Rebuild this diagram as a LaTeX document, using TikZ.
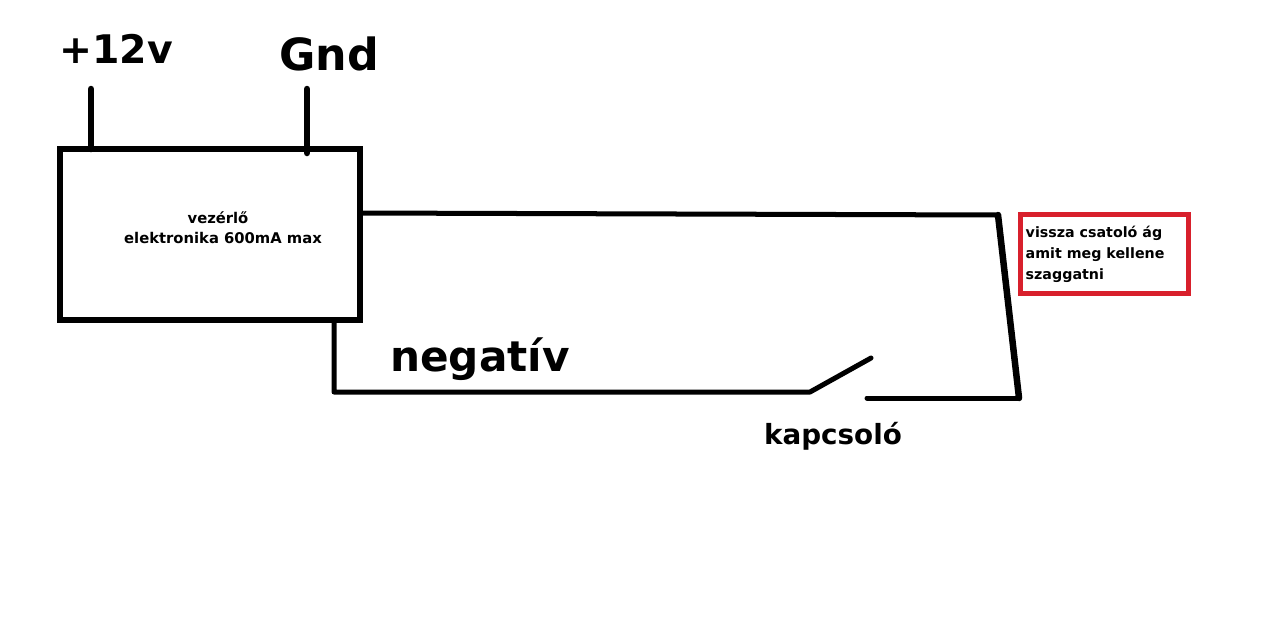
\documentclass[tikz,border=0pt]{standalone}
\usepackage{fontspec}
\setmainfont{DejaVu Sans}
\definecolor{paintred}{HTML}{D8202C}
\tikzset{
  wire/.style={line width=0.05cm,line cap=round,line join=round},
  heavywire/.style={wire,line width=0.065cm},
  bigtext/.style={inner sep=0pt,font=\bfseries\fontsize{11.2}{14}\selectfont},
  smalltext/.style={inner sep=0pt,font=\bfseries\fontsize{4.2}{5.1}\selectfont}
}
\begin{document}
\begin{tikzpicture}[x=0.01cm,y=-0.01cm]
  \useasboundingbox (0,0) rectangle (1280,630);
  \node[draw,line width=0.06cm,minimum width=3cm,minimum height=1.71cm,inner sep=0pt] (vezerlo) at (210,234.5) {};
  \node[smalltext] at (218,218) {vezérlő};
  \node[smalltext] at (223,238) {elektronika 600mA max};
  \node[bigtext] at (116,49) {+12v};
  \node[bigtext,font=\bfseries\fontsize{12.6}{15}\selectfont] at (329,54) {Gnd};
  \node[bigtext,font=\bfseries\fontsize{12}{15}\selectfont] at (480,359) {negatív};
  \node[bigtext,font=\bfseries\fontsize{7.9}{10}\selectfont] at (833,436) {kapcsoló};

  \coordinate (plusz) at (91,89);
  \coordinate (plusztalp) at (91,149);
  \coordinate (fold) at (307,89);
  \coordinate (foldtalp) at (307,153);
  \coordinate (ki) at (360,213);
  \coordinate (sarok) at (998,215);
  \coordinate (alsosarok) at (1019,398);
  \coordinate (kontakt) at (867,398);
  \coordinate (le) at (334,320);
  \coordinate (negsarok) at (334,392);
  \coordinate (csuklo) at (810,392);
  \coordinate (kar) at (871,358);

  \draw[heavywire] (plusz) -- (plusztalp);
  \draw[heavywire] (fold) -- (foldtalp);
  \draw[wire] (ki) -- (sarok);
  \draw[heavywire] (sarok) -- (alsosarok);
  \draw[wire] (alsosarok) -- (kontakt);
  \draw[wire] (le) -- (negsarok) -- (csuklo) -- (kar);

  \node[draw=paintred,line width=0.05cm,minimum width=1.68cm,minimum height=0.79cm,inner sep=0pt] (doboz) at (1104.5,254) {};
  \node[smalltext,align=left,anchor=west,font=\bfseries\fontsize{4.05}{5.98}\selectfont] at (1025,254) {vissza csatoló ág\\amit meg kellene\\szaggatni};
\end{tikzpicture}
\end{document}
